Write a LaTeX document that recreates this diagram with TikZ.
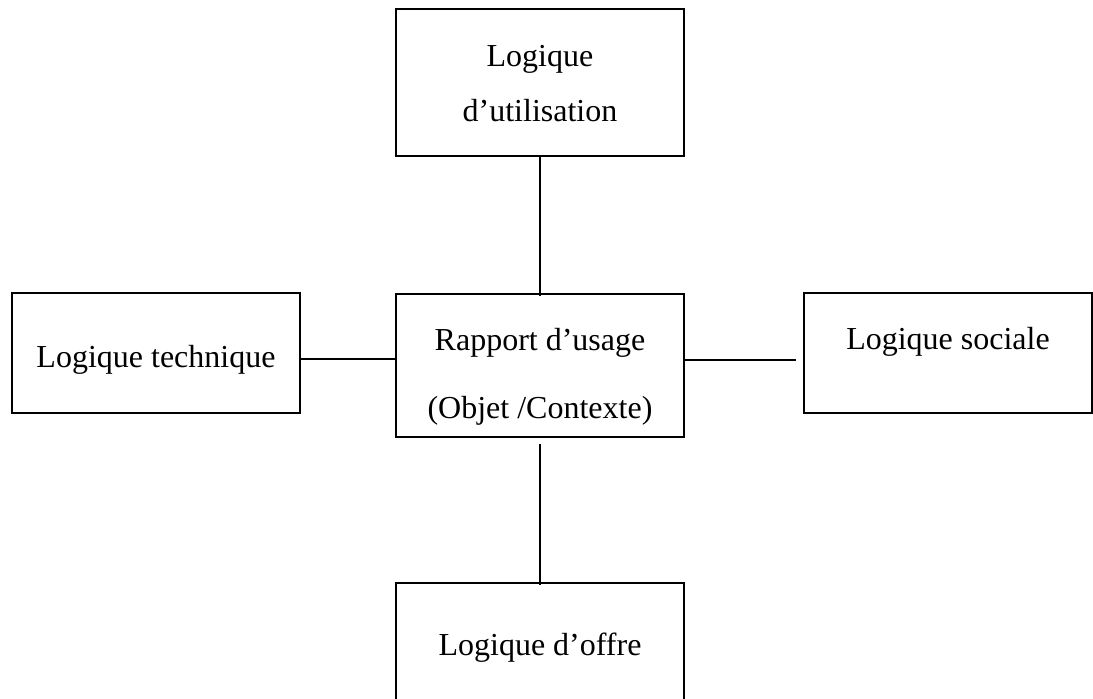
\documentclass[tikz,border=0pt]{standalone}
\usepackage{fontspec}
\setmainfont{Liberation Serif}
\tikzset{
  boite/.style={draw, line width=1.3pt, minimum width=216pt, inner sep=0pt},
  lien/.style={line width=1.3pt},
  texte/.style={anchor=base, inner sep=0pt, font=\fontsize{24}{29}\selectfont}
}
\begin{document}
\begin{tikzpicture}[x=0.75pt,y=-0.75pt]
\clip (0,0) rectangle (1093,699);
% boites
\node[boite, minimum height=110.25pt] (util) at (540,82.5) {};
\node[boite, minimum height=107.25pt] (rapport) at (540,365.5) {};
\node[boite, minimum height=90pt] (tech) at (156,353) {};
\node[boite, minimum height=90pt] (social) at (948,353) {};
\node[boite, minimum height=105pt] (offre) at (540,653) {};

% textes
\node[texte] (util1) at (540,67) {Logique};
\node[texte] (util2) at (540,122) {d’utilisation};
\node[texte] (rapport1) at (540,350) {Rapport d’usage};
\node[texte] (rapport2) at (540,418) {(Objet /Contexte)};
\node[texte] (techtxt) at (156,367) {Logique technique};
\node[texte] (socialtxt) at (948,349) {Logique sociale};
\node[texte] (offretxt) at (540,655) {Logique d’offre};

% liens
\draw[lien] (util.south) -- ([yshift=-2pt]rapport.north);
\draw[lien] ([yshift=-4.5pt]tech.east) -- ([yshift=-4.5pt]tech.east -| rapport.west);
\draw[lien] ([yshift=4pt]rapport.east) -- ([yshift=4pt,xshift=-5.25pt]rapport.east -| social.west);
\draw[lien] ([yshift=-4.5pt]rapport.south) -- ([yshift=-2.25pt]offre.north);
\end{tikzpicture}
\end{document}
